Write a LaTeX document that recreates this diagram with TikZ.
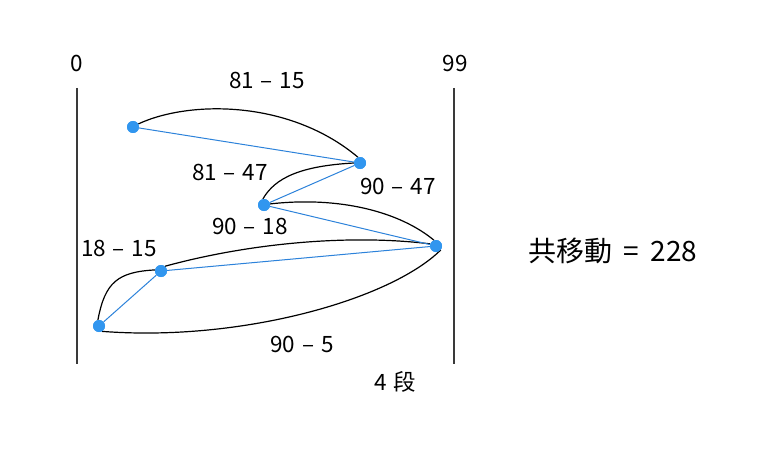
\documentclass[tikz,border=0pt]{standalone}
\usepackage{fontspec}
\setmainfont{Noto Sans CJK SC}
\begin{document}
\begin{tikzpicture}[x=1pt,y=-1pt,
  dot/.style={circle,fill=dotblue,inner sep=0pt,minimum size=12pt},
  jump/.style={draw=lineblue,line width=1pt},
  arc/.style={draw=black,line width=1.2pt},
  axis/.style={draw=axisgray,line width=1.6pt},
  lbl/.style={font=\fontsize{22.5}{26}\selectfont,inner sep=0pt}]
\definecolor{dotblue}{HTML}{3196EF}
\definecolor{lineblue}{HTML}{2C82DA}
\definecolor{axisgray}{HTML}{3A3A3A}
\newcommand{\dd}{\hspace{0.3em}–\hspace{0.3em}}
\useasboundingbox (0,0) rectangle (764,452);
% axes
\coordinate (l0) at (77,88); \coordinate (l1) at (77,364);
\coordinate (r0) at (454,88); \coordinate (r1) at (454,364);
\draw[axis] (l0) -- (l1);
\draw[axis] (r0) -- (r1);
\node[lbl] (n0) at (77,63) {0};
\node[lbl] (n99) at (455,63) {99};
% dots
\node[dot] (A) at (133,127) {};
\node[dot] (B) at (360,163) {};
\node[dot] (C) at (264,205) {};
\node[dot] (D) at (436,246) {};
\node[dot] (E) at (161,271) {};
\node[dot] (F) at (99,326) {};
% arcs
\draw[arc] (A.30) .. controls (190,100) and (290,100) .. (B.110);
\draw[arc] (C.100) .. controls (275,178) and (300,166) .. (B.180);
\draw[arc] (C.10) .. controls (340,196) and (400,212) .. (D.110);
\draw[arc] (E.50) .. controls (250,243) and (350,234) .. (D.160);
\draw[arc] (F.100) .. controls (105,282) and (118,272) .. (E.170);
\draw[arc] (F.-60) .. controls (240,342) and (390,300) .. (D.-40);
% jumps
\draw[jump] (A) -- (B);
\draw[jump] (B) -- (C);
\draw[jump] (C) -- (D);
\draw[jump] (D) -- (E);
\draw[jump] (E) -- (F);
\node[dot] at (A) {};\node[dot] at (B) {};\node[dot] at (C) {};
\node[dot] at (D) {};\node[dot] at (E) {};\node[dot] at (F) {};
% labels
\node[lbl] (t1) at (267,80) {81\dd 15};
\node[lbl] (t2) at (230,172) {81\dd 47};
\node[lbl] (t3) at (398,186) {90\dd 47};
\node[lbl] (t4) at (250,226) {90\dd 18};
\node[lbl] (t5) at (119,248) {18\dd 15};
\node[lbl] (t6) at (302,344) {90\dd 5};
\node[lbl] (t7) at (395,382) {4\hspace{0.3em}段};
\node[lbl,font=\fontsize{28}{32}\selectfont] (t8) at (613,251) {共移動\hspace{0.4em}=\hspace{0.4em}228};
\end{tikzpicture}
\end{document}
